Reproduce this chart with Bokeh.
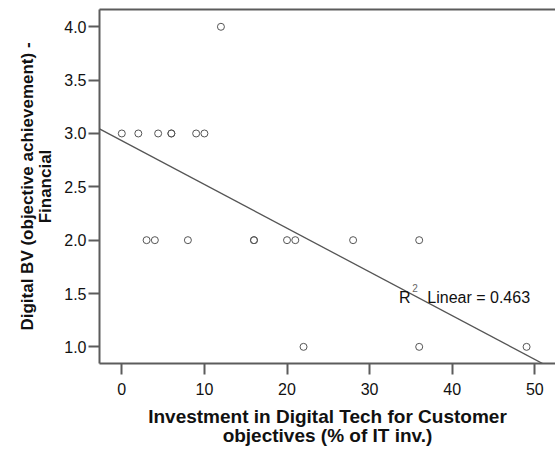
import numpy as np
from bokeh.plotting import figure
from bokeh.models import Range1d, FixedTicker, Label, NumeralTickFormatter, LinearAxis
from bokeh.embed import file_html
from bokeh.resources import INLINE

# data
invest_pct = [0, 2, 4.4, 6, 6, 9, 10, 12, 3, 4, 8, 16, 16, 20, 21, 28, 36, 22, 36, 49]
digital_bv = [3, 3, 3, 3, 3, 3, 3, 4, 2, 2, 2, 2, 2, 2, 2, 2, 2, 1, 1, 1]
x_ticks = [0, 10, 20, 30, 40, 50]
y_ticks = [1.0, 1.5, 2.0, 2.5, 3.0, 3.5, 4.0]
r2_text = "Linear = 0.463"

X_START, X_END = -2.7, 52.5
Y_START, Y_END = 0.844, 4.162

FONT = "Liberation Sans"
AX = "#5c5c5c"

p = figure(width=555, height=449, output_backend="svg", toolbar_location=None,
           x_range=Range1d(X_START, X_END), y_range=Range1d(Y_START, Y_END),
           min_border_left=99, min_border_right=0, min_border_top=9, min_border_bottom=85)
p.outline_line_color = None
p.grid.visible = False
p.background_fill_color = "white"
p.border_fill_color = "white"

# regression line from the data
slope, intercept = np.polyfit(np.array(invest_pct, float), np.array(digital_bv, float), 1)
xl = np.array([X_START, X_END])
p.line(xl, intercept + slope * xl, line_color="#555555", line_width=1.3)

p.scatter(invest_pct, digital_bv, marker="circle", size=7, fill_color=None,
          line_color="#555555", line_width=1)

for ax in (p.xaxis[0], p.yaxis[0]):
    ax.axis_line_color = AX
    ax.axis_line_width = 2
    ax.major_tick_line_color = AX
    ax.major_tick_line_width = 2
    ax.minor_tick_line_color = None
    ax.major_tick_in = 0
    ax.major_label_text_font = FONT
    ax.major_label_text_font_size = "16px"
    ax.major_label_text_color = "#111111"
    ax.axis_label_text_font = FONT
    ax.axis_label_text_font_style = "bold"
    ax.axis_label_text_color = "#111111"

p.xaxis.ticker = FixedTicker(ticks=x_ticks)
p.yaxis.ticker = FixedTicker(ticks=y_ticks)
p.yaxis.formatter = NumeralTickFormatter(format="0.0")
p.xaxis.major_tick_out = 11
p.xaxis.major_label_standoff = 8
p.yaxis.major_tick_out = 11
p.yaxis.major_label_standoff = 2

p.xaxis.axis_label = "Investment in Digital Tech for Customer\nobjectives (% of IT inv.)"
p.xaxis.axis_label_text_font_size = "19px"
p.xaxis.axis_label_text_line_height = 0.95
p.xaxis.axis_label_standoff = 8
p.yaxis.axis_label = "Digital BV (objective achievement) -\nFinancial"
p.yaxis.axis_label_text_font_size = "17px"
p.yaxis.axis_label_text_line_height = 0.95
p.yaxis.axis_label_standoff = 6

# top frame line as a bare axis
top = LinearAxis(axis_line_color=AX, axis_line_width=2, major_tick_line_color=None,
                 minor_tick_line_color=None, major_label_text_font_size="0px",
                 major_label_text_color=None, major_tick_out=0, major_tick_in=0,
                 major_label_standoff=0)
top.ticker = FixedTicker(ticks=[])
p.add_layout(top, "above")

# R² annotation
p.add_layout(Label(x=33.55, y=1.467, text="R", text_font=FONT, text_font_size="16px",
                   text_color="#111111", text_baseline="alphabetic"))
p.add_layout(Label(x=35.17, y=1.551, text="2", text_font=FONT, text_font_size="10px",
                   text_color="#666666", text_baseline="alphabetic"))
p.add_layout(Label(x=36.98, y=1.467, text=r2_text, text_font=FONT, text_font_size="16px",
                   text_color="#111111", text_baseline="alphabetic"))

open("out.html", "w").write(file_html(p, INLINE))
